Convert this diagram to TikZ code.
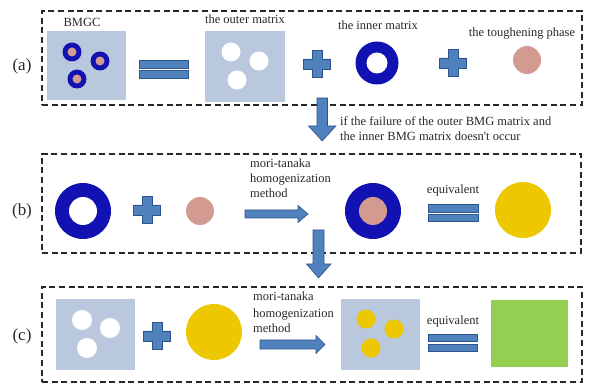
\documentclass[tikz,border=0pt]{standalone}
\usepackage{fontspec}
\setmainfont{Liberation Serif}
\definecolor{panelblue}{RGB}{185,200,221}
\definecolor{ringblue}{RGB}{18,18,178}
\definecolor{toughpink}{RGB}{211,154,146}
\definecolor{goldfill}{RGB}{237,199,0}
\definecolor{greenfill}{RGB}{148,207,82}
\definecolor{shapefill}{RGB}{79,129,189}
\definecolor{shapeedge}{RGB}{46,84,140}
\definecolor{inkgray}{RGB}{40,40,40}
\tikzset{
  frame/.style={draw=inkgray, line width=1.2pt, dash pattern=on 6pt off 3.6pt, inner sep=0pt, outer sep=0pt},
  panel/.style={fill=panelblue, inner sep=0pt, outer sep=0pt},
  disc/.style={circle, inner sep=0pt, outer sep=0pt, minimum size=#1},
  lbl/.style={text=inkgray, font=\fontsize{12.5}{15}\selectfont, inner sep=0pt},
  rowlbl/.style={text=inkgray, font=\fontsize{17}{20}\selectfont, inner sep=0pt},
  blk/.style={fill=shapefill, draw=shapeedge, line width=0.6pt},
  eqbar/.style={blk, inner sep=0pt, outer sep=0pt, minimum height=7.5pt},
  pics/plusmark/.style={code={
    \filldraw[blk] (-5,-13.5) -- (5,-13.5) -- (5,-5) -- (13.5,-5) -- (13.5,5) -- (5,5)
      -- (5,13.5) -- (-5,13.5) -- (-5,5) -- (-13.5,5) -- (-13.5,-5) -- (-5,-5) -- cycle;
  }},
}
\begin{document}
\begin{tikzpicture}[x=1pt,y=-1pt]
\useasboundingbox (0,0) rectangle (590,385);

% ---------- row (a) ----------
\node[frame, minimum width=540pt, minimum height=94pt] (rowa) at (312,58) {};
\node[rowlbl] (laba) at (22,66) {(a)};

\node[panel, minimum width=79pt, minimum height=69pt] (bmgc) at (86.5,65.5) {};
\node[lbl, anchor=base] (tbmgc) at (82,27) {BMGC};
\foreach \i/\p in {1/{(72,52)},2/{(100,61)},3/{(77,79)}}{
  \node[disc=19pt, fill=ringblue] (bring\i) at \p {};
  \node[disc=9pt, fill=toughpink] (bcore\i) at \p {};
}

\node[eqbar, minimum width=49pt] (eqa1) at (163.5,64.5) {};
\node[eqbar, minimum width=49pt] (eqa2) at (163.5,74.5) {};

\node[panel, minimum width=80pt, minimum height=71pt] (outer) at (245,66.5) {};
\node[lbl, anchor=base] (touter) at (245,24) {the outer matrix};
\foreach \i/\p in {1/{(231,52)},2/{(259,61)},3/{(237,80)}}{
  \node[disc=19pt, fill=white] (hole\i) at \p {};
}

\pic at (317,64) {plusmark};

\node[disc=43pt, fill=ringblue] (inner) at (377,63) {};
\node[disc=21pt, fill=white] (innerhole) at (377,63) {};
\node[lbl, anchor=base] (tinner) at (378,30) {the inner matrix};

\pic at (453,63) {plusmark};

\node[disc=28pt, fill=toughpink] (tough) at (527,60) {};
\node[lbl, anchor=base] (ttough) at (522,37) {the toughening phase};

% arrow from (a) to (b)
\filldraw[blk] (317,98) -- (327.5,98) -- (327.5,126) -- (336,126) -- (322.2,141)
  -- (308.5,126) -- (317,126) -- cycle;
\node[lbl, anchor=base west] (cond1) at (340,126) {if the failure of the outer BMG matrix and};
\node[lbl, anchor=base west] (cond2) at (340,141) {the inner BMG matrix doesn\textquotesingle t occur};

% ---------- row (b) ----------
\node[frame, minimum width=539pt, minimum height=99pt] (rowb) at (311.5,203.5) {};
\node[rowlbl] (labb) at (22,211) {(b)};

\node[disc=56pt, fill=ringblue] (bring) at (83,211) {};
\node[disc=28pt, fill=white] (bringhole) at (83,211) {};
\pic at (147,210) {plusmark};
\node[disc=28pt, fill=toughpink] (btough) at (200,211) {};

\node[lbl, anchor=base west] (mtb1) at (250,168) {mori-tanaka};
\node[lbl, anchor=base west] (mtb2) at (250,183) {homogenization};
\node[lbl, anchor=base west] (mtb3) at (250,198) {method};
\filldraw[blk] (245,210) -- (298,210) -- (298,205.5) -- (308,214) -- (298,222.5)
  -- (298,218) -- (245,218) -- cycle;

\node[disc=56pt, fill=ringblue] (coated) at (373,211) {};
\node[disc=28pt, fill=toughpink] (coatedcore) at (373,211) {};

\node[lbl, anchor=base] (eqtb) at (453,194) {equivalent};
\node[eqbar, minimum width=50pt] (eqb1) at (453,208.5) {};
\node[eqbar, minimum width=50pt] (eqb2) at (453,218) {};

\node[disc=56pt, fill=goldfill] (bgold) at (523,210) {};

% arrow from (b) to (c)
\filldraw[blk] (313,230) -- (324,230) -- (324,264) -- (331,264) -- (318.5,278)
  -- (306.5,264) -- (313,264) -- cycle;

% ---------- row (c) ----------
\node[frame, minimum width=540pt, minimum height=95pt] (rowc) at (312,334.5) {};
\node[rowlbl] (labc) at (22,336) {(c)};

\node[panel, minimum width=79pt, minimum height=71pt] (cmatrix) at (95.5,334.5) {};
\foreach \i/\p in {1/{(82,320)},2/{(110,328)},3/{(87,348)}}{
  \node[disc=20pt, fill=white] (chole\i) at \p {};
}
\pic at (157,336) {plusmark};
\node[disc=56pt, fill=goldfill] (cgold) at (214,332) {};

\node[lbl, anchor=base west] (mtc1) at (253,301) {mori-tanaka};
\node[lbl, anchor=base west] (mtc2) at (253,317) {homogenization};
\node[lbl, anchor=base west] (mtc3) at (253,333) {method};
\filldraw[blk] (260,340) -- (316,340) -- (316,335.5) -- (325,344.5) -- (316,353.5)
  -- (316,349) -- (260,349) -- cycle;

\node[panel, minimum width=79pt, minimum height=71pt] (cfilled) at (380.5,334.5) {};
\foreach \i/\p in {1/{(366,319)},2/{(394,329)},3/{(371,348)}}{
  \node[disc=19pt, fill=goldfill] (cdot\i) at \p {};
}

\node[lbl, anchor=base] (eqtc) at (453,324) {equivalent};
\node[eqbar, minimum width=49pt] (eqc1) at (452.5,338) {};
\node[eqbar, minimum width=49pt] (eqc2) at (452.5,348) {};

\node[fill=greenfill, inner sep=0pt, minimum width=77pt, minimum height=67pt] (homog) at (529.5,333.5) {};
\end{tikzpicture}
\end{document}
